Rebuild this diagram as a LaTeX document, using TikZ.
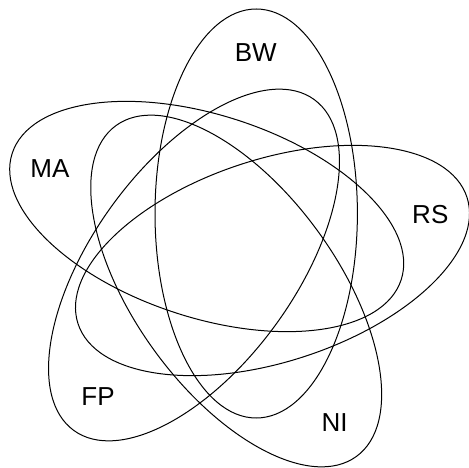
\documentclass[tikz,border=0pt]{standalone}
\usepackage{fontspec}
\setmainfont{Liberation Sans}
\begin{document}
\begin{tikzpicture}[x=1pt,y=-1pt,
  setline/.style={draw=black, line width=1pt},
  lbl/.style={font=\fontsize{26}{30}\selectfont, inner sep=0pt, text=black}]
\useasboundingbox (0,0) rectangle (469,468);
% BW
\draw[setline] (256.2,213.5) ellipse [x radius=101.2, y radius=204.5];
% MA
\draw[setline, rotate around={-18:(206.7,216.5)}] (206.7,216.5) ellipse [x radius=204.5, y radius=101.2];
% RS
\draw[setline, rotate around={18:(272.5,260.5)}] (272.5,260.5) ellipse [x radius=204.5, y radius=101.2];
% NI
\draw[setline, rotate around={-54:(236.2,291)}] (236.2,291) ellipse [x radius=204.5, y radius=101.2];
% FP
\draw[setline, rotate around={54:(194,265)}] (194,265) ellipse [x radius=204.5, y radius=101.2];
\node[lbl] (BW) at (255.7,52.5) {BW};
\node[lbl] (MA) at (50,169) {MA};
\node[lbl] (RS) at (430.3,214.5) {RS};
\node[lbl] (FP) at (98,397) {FP};
\node[lbl] (NI) at (334.5,422.7) {NI};
\end{tikzpicture}
\end{document}
